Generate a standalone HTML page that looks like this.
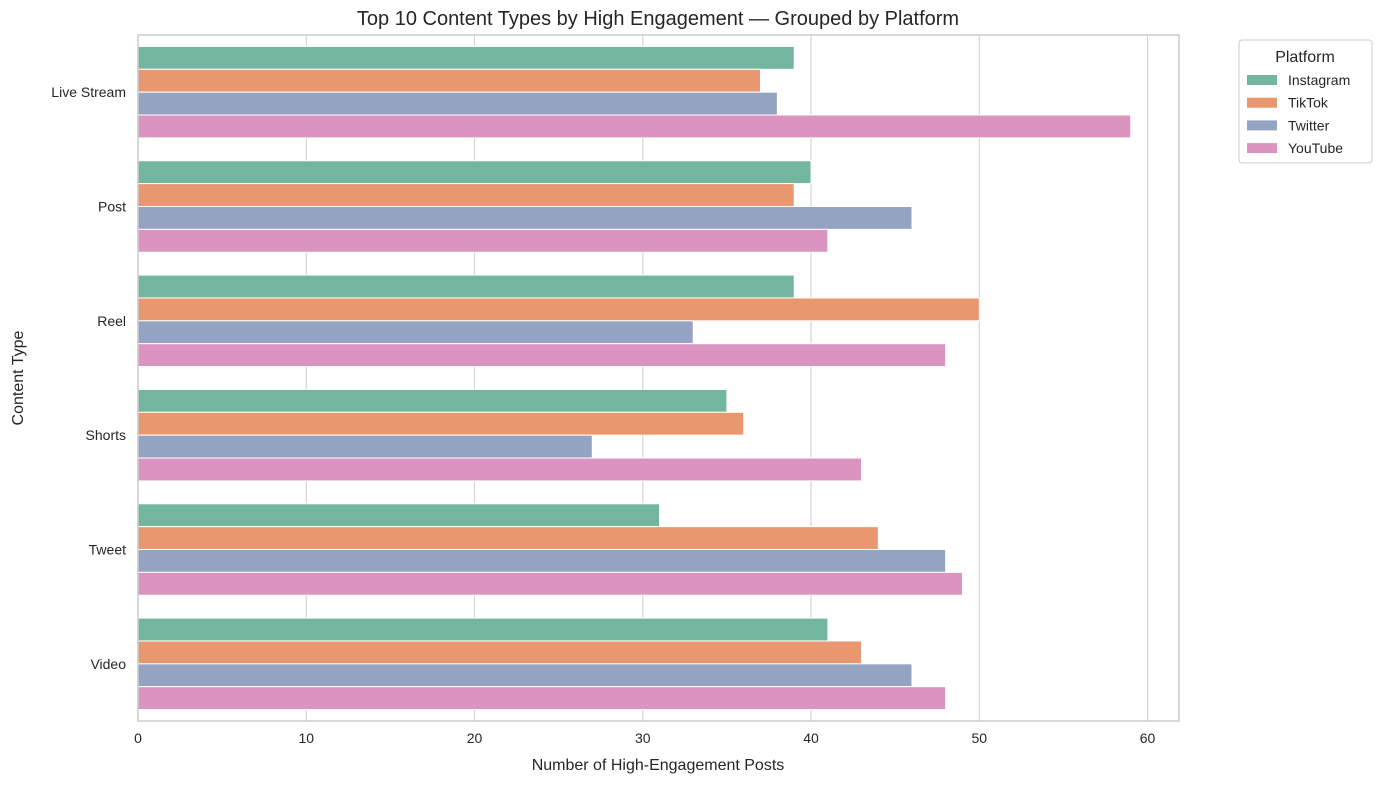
<!DOCTYPE html>
<html><head><meta charset="utf-8"><style>
body{margin:0;background:#fff;font-family:"Liberation Sans","DejaVu Sans",sans-serif;}
svg text{font-family:"Liberation Sans","DejaVu Sans",sans-serif;}
</style></head><body>
<svg id="chart" width="1381" height="784" xmlns="http://www.w3.org/2000/svg">
<rect width="1381" height="784" fill="#fff"/>
<g id="grid"></g><g id="bars"></g><g id="axes"></g>
<text x="658" y="25" text-anchor="middle" font-size="20" fill="#262626">Top 10 Content Types by High Engagement — Grouped by Platform</text>
<text x="658" y="770" text-anchor="middle" font-size="16" fill="#262626">Number of High-Engagement Posts</text>
<text transform="translate(23,378) rotate(-90)" text-anchor="middle" font-size="16" fill="#262626">Content Type</text>
<g>
<rect x="1239" y="40" width="133" height="123" rx="3" fill="#fff" stroke="#cccccc"/>
<text x="1305" y="62" text-anchor="middle" font-size="16" fill="#262626">Platform</text>
<g id="legend-items"></g>
</g>
</svg>
<script>
const categories=["Live Stream","Post","Reel","Shorts","Tweet","Video"];
const platforms=["Instagram","TikTok","Twitter","YouTube"];
const instagram=[39,40,39,35,31,41];
const tiktok=[37,39,50,36,44,43];
const twitter=[38,46,33,27,48,46];
const youtube=[59,41,48,43,49,48];
const xTicks=[0,10,20,30,40,50,60];
const series=[instagram,tiktok,twitter,youtube];
const colors=["#73b6a0","#e9976f","#95a3c3","#db93c0"];
const L=138,R=1179,T=35,B=721,XMAX=61.87;
const ns="http://www.w3.org/2000/svg";
const x=v=>L+v/XMAX*(R-L);
const band=(B-T)/categories.length;
const y=i=>T+band*(i+0.5);
function mk(tag,attrs,parent){const e=document.createElementNS(ns,tag);for(const k in attrs)e.setAttribute(k,attrs[k]);parent.appendChild(e);return e;}
const grid=document.getElementById('grid'),bars=document.getElementById('bars'),axes=document.getElementById('axes');
xTicks.forEach(t=>{
 const l=mk('line',{x1:x(t),x2:x(t),y1:T,y2:B,stroke:'#d4d4d4','stroke-width':1.2},grid);
 
 
 const tx=mk('text',{x:x(t),y:B+22,'text-anchor':'middle','font-size':14,fill:'#262626'},axes);
 tx.textContent=t;
 
 
});
const bh=band*0.8/4;
categories.forEach((c,i)=>{
 const tx=mk('text',{x:L-12,y:y(i)+5,'text-anchor':'end','font-size':14,fill:'#262626'},axes);
 tx.textContent=c;
 
 
 series.forEach((s,j)=>{
  const top=y(i)-band*0.4+j*bh;
  const r=mk('rect',{x:x(0),y:top,width:x(s[i])-x(0),height:bh,fill:colors[j],stroke:'#fff','stroke-width':1},bars);
  
  
 });
});
const fr=mk('rect',{x:L,y:T,width:R-L,height:B-T,fill:'none',stroke:'#cccccc','stroke-width':1.5},axes);


const lg=document.getElementById('legend-items');
platforms.forEach((p,j)=>{
 const yy=80+j*22.7;
 const r=mk('rect',{x:1247,y:yy-5,width:30,height:10,fill:colors[j]},lg);
 
 
 const t=mk('text',{x:1288,y:yy+5,'font-size':14,fill:'#262626'},lg);
 t.textContent=p;
 
 
});
</script>
</body></html>
